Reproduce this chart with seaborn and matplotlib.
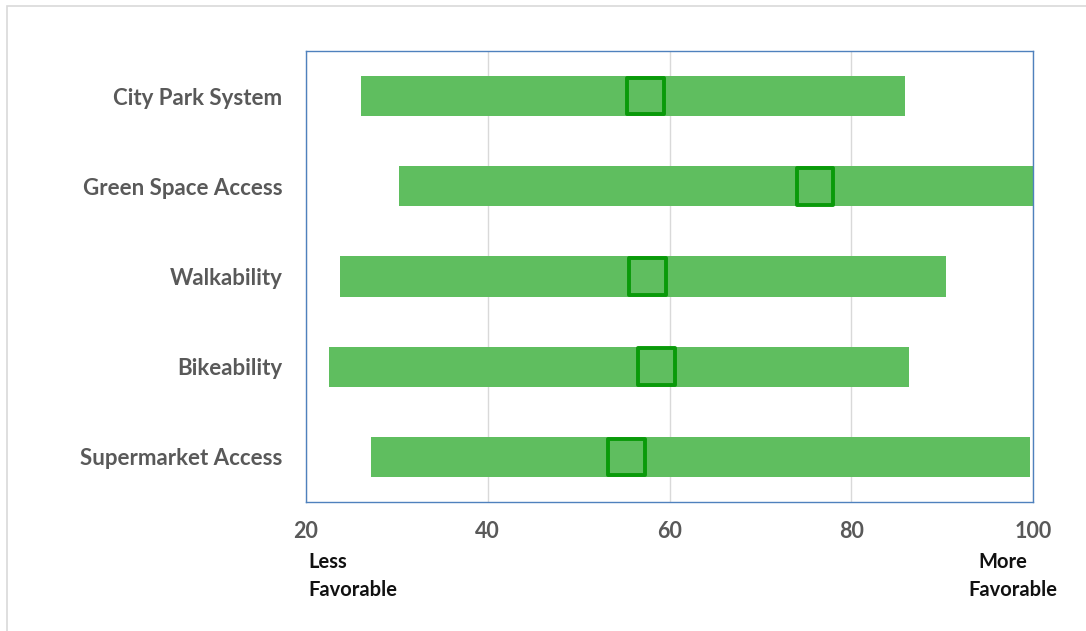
import matplotlib
matplotlib.use("Agg")
import matplotlib.pyplot as plt
from matplotlib.patches import Rectangle
import seaborn as sns
import pandas as pd

categories = ["City Park System", "Green Space Access", "Walkability",
              "Bikeability", "Supermarket Access"]
range_low = [26.1, 30.2, 23.7, 22.5, 27.2]
range_high = [85.9, 100.0, 90.4, 86.4, 99.7]
score = [57.4, 76.0, 57.6, 58.6, 55.3]
x_ticks = [20, 40, 60, 80, 100]

sns.set_theme(style="white")
plt.rcParams["font.family"] = ["Lato", "DejaVu Sans"]

df = pd.DataFrame({"category": categories, "low": range_low,
                   "high": range_high, "score": score})
df["pos"] = range(len(df))

fig = plt.figure(figsize=(10.86, 6.31), dpi=100)
ax = fig.add_axes([306 / 1086, 1 - 502 / 631, 727 / 1086, 451 / 631])

# range bars
ax.barh(df["pos"], df["high"] - df["low"], left=df["low"], height=0.445,
        color="#5fbe5f", edgecolor="none", zorder=2)

# score markers
sns.scatterplot(data=df, x="score", y="pos", ax=ax, marker="s", s=700,
                facecolor="none", edgecolor="#0a9a0a", linewidth=2.8,
                zorder=3, legend=False)

ax.set_xlim(20, 100)
ax.set_ylim(len(df) - 0.5, -0.5)
ax.set_xticks(x_ticks)
ax.set_xticklabels([str(t) for t in x_ticks], fontsize=15.5,
                   fontweight="bold", color="#595959")
ax.set_yticks(df["pos"])
ax.set_yticklabels(df["category"], fontsize=16, fontweight="bold",
                   color="#595959")
ax.tick_params(axis="both", length=0)
ax.tick_params(axis="y", pad=17)
ax.tick_params(axis="x", pad=14)
ax.set_xlabel("")
ax.set_ylabel("")

ax.grid(axis="x", color="#d9d9d9", linewidth=1, zorder=0)
ax.set_axisbelow(True)
for sp in ax.spines.values():
    sp.set_color("#4f81bd")
    sp.set_linewidth(1.0)

end_style = dict(fontsize=14.5, fontweight="bold", color="#111111",
                 va="center")
fig.text(308 / 1086, 1 - 562 / 631, "Less", ha="left", **end_style)
fig.text(308 / 1086, 1 - 590 / 631, "Favorable", ha="left", **end_style)
fig.text(1003 / 1086, 1 - 562 / 631, "More", ha="center", **end_style)
fig.text(1013 / 1086, 1 - 590 / 631, "Favorable", ha="center", **end_style)

# light outer frame
fig.patches.append(Rectangle((7 / 1086, -0.05), 1.1, 1 - 6 / 631 + 0.05,
                             transform=fig.transFigure, fill=False,
                             edgecolor="#d9d9d9", linewidth=1.2))

fig.savefig("out.png", dpi=100, facecolor="white")
